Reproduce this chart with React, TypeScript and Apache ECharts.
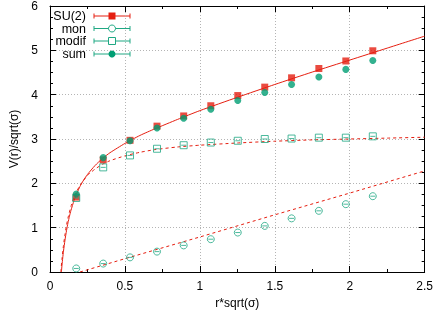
import React, { useEffect, useRef } from "react";
import * as echarts from "echarts";

// Data points (r*sqrt(sigma), V(r)/sqrt(sigma))
const rValues = [0.175, 0.355, 0.534, 0.714, 0.892, 1.073, 1.253, 1.433, 1.612, 1.794, 1.974, 2.154];
const su2Values = [1.69, 2.53, 2.97, 3.29, 3.52, 3.75, 3.98, 4.17, 4.38, 4.59, 4.76, 4.99];
const monValues = [0.08, 0.19, 0.33, 0.46, 0.6, 0.74, 0.89, 1.04, 1.21, 1.38, 1.53, 1.71];
const modifValues = [1.67, 2.36, 2.63, 2.78, 2.86, 2.92, 2.96, 3.0, 3.01, 3.03, 3.03, 3.06];
const sumValues = [1.76, 2.58, 2.96, 3.25, 3.47, 3.67, 3.87, 4.05, 4.23, 4.4, 4.57, 4.77];

// Fit curves
const su2FitX = [0.076, 0.08, 0.085, 0.09, 0.1, 0.11, 0.12, 0.13, 0.14, 0.16, 0.18, 0.2, 0.22, 0.25, 0.3, 0.35, 0.4, 0.5, 0.6, 0.7, 0.85, 1.0, 1.25, 1.5, 1.75, 2.0, 2.25, 2.5];
const su2FitY = [0, 0.15, 0.32, 0.47, 0.72, 0.93, 1.11, 1.26, 1.39, 1.61, 1.78, 1.93, 2.05, 2.2, 2.4, 2.56, 2.69, 2.9, 3.08, 3.23, 3.44, 3.64, 3.94, 4.23, 4.51, 4.78, 5.05, 5.32];
const modifFitX = [0.0723, 0.08, 0.09, 0.1, 0.11, 0.12, 0.14, 0.16, 0.18, 0.2, 0.25, 0.3, 0.35, 0.4, 0.5, 0.6, 0.7, 0.85, 1.0, 1.25, 1.5, 1.75, 2.0, 2.25, 2.5];
const modifFitY = [0, 0.3, 0.6, 0.85, 1.05, 1.22, 1.48, 1.68, 1.83, 1.95, 2.18, 2.32, 2.43, 2.51, 2.62, 2.7, 2.76, 2.82, 2.86, 2.91, 2.95, 2.98, 3.0, 3.02, 3.04];
const monFitX = [0.2, 0.5, 1.0, 1.5, 2.0, 2.5];
const monFitY = [0, 0.3, 0.79, 1.29, 1.78, 2.28];

const legendNames = ["SU(2)", "mon", "modif", "sum"];

const RED = "#e51e10";
const GREEN = "#009e73";
const TEAL = "#1fa883";
const FONT = "Liberation Sans, Arial, sans-serif";

const pairs = (xs: number[], ys: number[]) => xs.map((x, i) => [x, ys[i]]);

export default function App() {
  const ref = useRef<HTMLDivElement>(null);
  useEffect(() => {
    if (!ref.current) return;
    const chart = echarts.init(ref.current, null, { renderer: "svg" });

    const gridLine = { show: true, lineStyle: { color: "#b4b4b4", type: [1, 2], width: 1 } };
    const axisLine = { show: true, onZero: false, lineStyle: { color: "#000", width: 1 } };
    const axisTick = { show: true, inside: true, length: 6, lineStyle: { color: "#000" } };
    const labelStyle = { color: "#000", fontFamily: FONT, fontSize: 12 };

    // legend (gnuplot-style key)
    const legendRows = [16, 28.5, 41, 54];
    const legendGraphics: any[] = [];
    legendNames.forEach((name, i) => {
      const y = legendRows[i];
      const c = i === 0 ? RED : TEAL;
      legendGraphics.push({
        type: "text",
        x: 86,
        y,
        style: { text: name, fill: "#000", font: `12.5px ${FONT}`, align: "right", verticalAlign: "middle" },
      });
      legendGraphics.push({ type: "line", shape: { x1: 94, y1: y, x2: 130, y2: y }, style: { stroke: c, lineWidth: 1 } });
      legendGraphics.push({ type: "line", shape: { x1: 94, y1: y - 2.5, x2: 94, y2: y + 2.5 }, style: { stroke: c, lineWidth: 1 } });
      legendGraphics.push({ type: "line", shape: { x1: 130, y1: y - 2.5, x2: 130, y2: y + 2.5 }, style: { stroke: c, lineWidth: 1 } });
      if (i === 0) {
        legendGraphics.push({ type: "rect", shape: { x: 108.5, y: y - 3.5, width: 7, height: 7 }, style: { fill: RED } });
      } else if (i === 1) {
        legendGraphics.push({ type: "circle", shape: { cx: 112, cy: y, r: 3.5 }, style: { fill: "#fff", stroke: TEAL, lineWidth: 1 } });
      } else if (i === 2) {
        legendGraphics.push({ type: "rect", shape: { x: 108.5, y: y - 3.5, width: 7, height: 7 }, style: { fill: "#fff", stroke: TEAL, lineWidth: 1 } });
      } else {
        legendGraphics.push({ type: "circle", shape: { cx: 112, cy: y, r: 3.5 }, style: { fill: GREEN } });
      }
    });

    const dashSeries = (vals: number[]) => ({
      type: "scatter",
      data: pairs(rValues, vals),
      symbol: "rect",
      symbolSize: [5, 1],
      itemStyle: { color: TEAL },
      z: 6,
    });

    const minor = (n: number) => ({ show: true, splitNumber: n, length: 3, lineStyle: { color: "#000" } });

    chart.setOption({
      animation: false,
      grid: { left: 41, right: 10, top: 5, bottom: 40 },
      xAxis: [
        {
          type: "value",
          min: 0,
          max: 2.5,
          interval: 0.5,
          position: "bottom",
          axisLine,
          axisTick,
          minorTick: minor(2),
          splitLine: gridLine,
          axisLabel: { ...labelStyle, margin: 8, formatter: (v: number) => String(v) },
          name: "r*sqrt(σ)",
          nameLocation: "middle",
          nameGap: 25,
          nameTextStyle: labelStyle,
        },
        {
          type: "value",
          min: 0,
          max: 2.5,
          interval: 0.5,
          position: "top",
          axisLine,
          axisTick,
          minorTick: minor(2),
          splitLine: { show: false },
          axisLabel: { show: false },
        },
      ],
      yAxis: [
        {
          type: "value",
          min: 0,
          max: 6,
          interval: 1,
          position: "left",
          axisLine,
          axisTick,
          minorTick: minor(4),
          splitLine: gridLine,
          axisLabel: { ...labelStyle, margin: 12 },
          name: "V(r)/sqrt(σ)",
          nameLocation: "middle",
          nameGap: 30,
          nameTextStyle: labelStyle,
        },
        {
          type: "value",
          min: 0,
          max: 6,
          interval: 1,
          position: "right",
          axisLine,
          axisTick,
          minorTick: minor(4),
          splitLine: { show: false },
          axisLabel: { show: false },
        },
      ],
      graphic: legendGraphics,
      series: [
        {
          type: "line",
          data: pairs(su2FitX, su2FitY),
          showSymbol: false,
          smooth: 0.2,
          lineStyle: { color: RED, width: 1 },
          z: 2,
        },
        {
          type: "line",
          data: pairs(modifFitX, modifFitY),
          showSymbol: false,
          smooth: 0.2,
          lineStyle: { color: RED, width: 1, type: [3, 3] },
          z: 2,
        },
        {
          type: "line",
          data: pairs(monFitX, monFitY),
          showSymbol: false,
          lineStyle: { color: RED, width: 1, type: [3, 3] },
          z: 2,
        },
        {
          name: "SU(2)",
          type: "scatter",
          data: pairs(rValues, su2Values),
          symbol: "rect",
          symbolSize: 7,
          itemStyle: { color: RED },
          z: 3,
        },
        {
          name: "mon",
          type: "scatter",
          data: pairs(rValues, monValues),
          symbol: "circle",
          symbolSize: 7,
          itemStyle: { color: "rgba(255,255,255,0)", borderColor: TEAL, borderWidth: 1 },
          z: 4,
        },
        dashSeries(monValues),
        {
          name: "modif",
          type: "scatter",
          data: pairs(rValues, modifValues),
          symbol: "rect",
          symbolSize: 7,
          itemStyle: { color: "rgba(255,255,255,0)", borderColor: TEAL, borderWidth: 1 },
          z: 4,
        },
        dashSeries(modifValues),
        {
          name: "sum",
          type: "scatter",
          data: pairs(rValues, sumValues),
          symbol: "circle",
          symbolSize: 7,
          itemStyle: { color: GREEN },
          z: 7,
        },
      ],
    });
    return () => chart.dispose();
  }, []);
  return <div ref={ref} style={{ position: "fixed", left: 0, top: 0, width: 436, height: 314 }} />;
}
